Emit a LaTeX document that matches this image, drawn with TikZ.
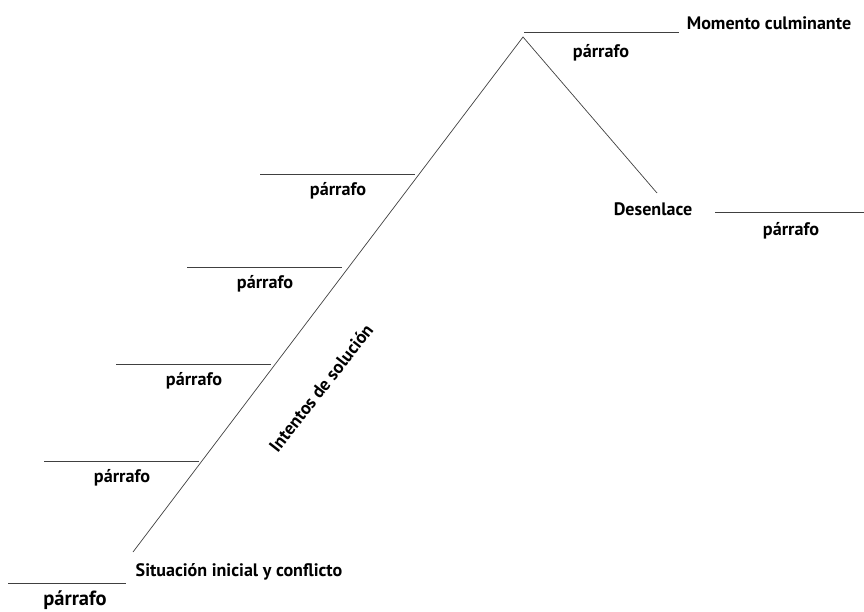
\documentclass[tikz,border=0pt]{standalone}
\usepackage{fontspec}
\setmainfont{PT Sans}
\usepackage{tikz}

\tikzset{
	tramo/.style={draw=black!75, line width=0.6pt},
	parr/.style={font=\bfseries\fontsize{15.5}{17}\selectfont, inner sep=0pt},
	etiq/.style={font=\bfseries\fontsize{15.4}{17}\selectfont, inner sep=0pt}
}

\begin{document}
\begin{tikzpicture}[x=0.03cm, y=-0.03cm]
		\useasboundingbox (0, 0) rectangle (864, 611);
		% linea de la trama
		\coordinate (inicio) at (133, 552);
		\coordinate (cumbre) at (523, 37);
		\coordinate (final) at (657, 193);
		\draw[tramo] (inicio) to (cumbre) to (final);
		\node[etiq, rotate=52] (intentos) at (321, 388) {Intentos de solución};
		% parrafos de los intentos
		\foreach \i/\xa/\xb/\y in {1/44/199/461, 2/116/271/364, 3/187/342/267, 4/260/415/174} {
			\coordinate (a\i) at (\xa, \y);
			\coordinate (b\i) at (\xb, \y);
			\draw[tramo] (a\i) to (b\i);
			\node[parr] (p\i) at (\xb-77, \y+17) {párrafo};
		}
		% situacion inicial
		\coordinate (ai) at (8, 583);
		\coordinate (bi) at (126, 583);
		\draw[tramo] (ai) to (bi);
		\node[etiq] (situacion) at (239, 572) {Situación inicial y conflicto};
		\node[parr, font=\bfseries\fontsize{17.5}{19}\selectfont] (pi) at (75, 600) {párrafo};
		% momento culminante
		\coordinate (am) at (524, 32);
		\coordinate (bm) at (679, 32);
		\draw[tramo] (am) to (bm);
		\node[etiq] (momento) at (769, 23) {Momento culminante};
		\node[parr] (pm) at (601, 53) {párrafo};
		% desenlace
		\coordinate (ad) at (715, 212);
		\coordinate (bd) at (864, 212);
		\draw[tramo] (ad) to (bd);
		\node[etiq] (desenlace) at (653, 209) {Desenlace};
		\node[parr] (pd) at (791, 231) {párrafo};
	\end{tikzpicture}
\end{document}
